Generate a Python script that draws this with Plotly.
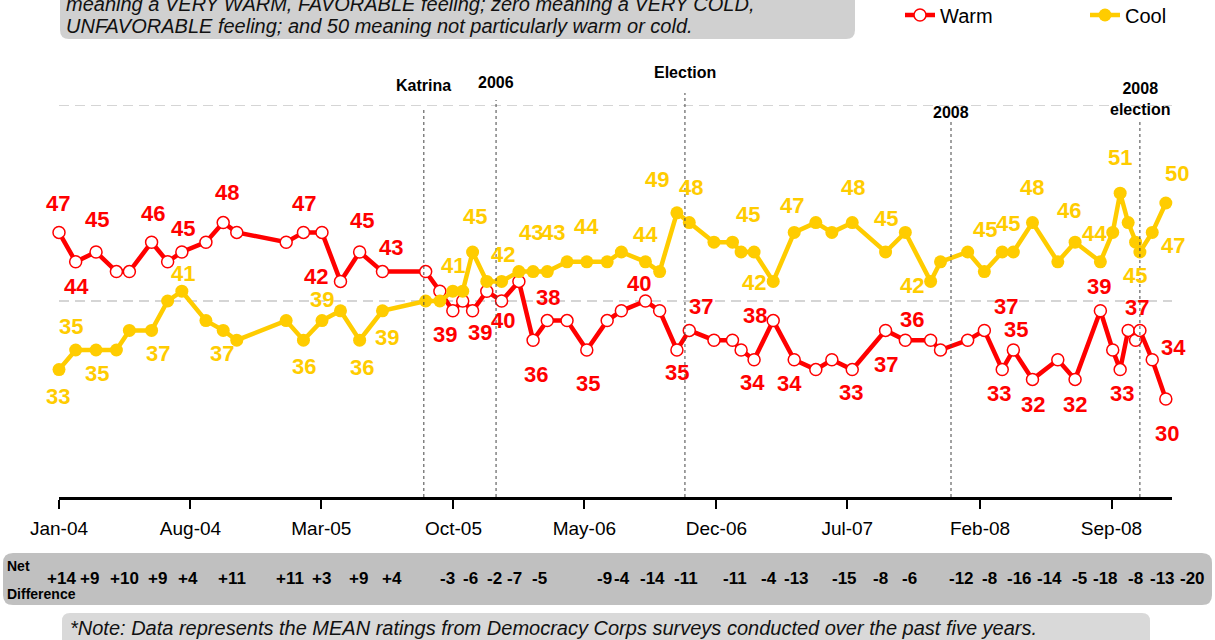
import plotly.graph_objects as go

# ---------------- data ----------------
survey_dates = [
    "2004-01-01", "2004-01-28", "2004-03-01", "2004-04-03", "2004-04-24", "2004-05-30",
    "2004-06-25", "2004-07-18", "2004-08-26", "2004-09-23", "2004-10-15", "2005-01-03",
    "2005-01-31", "2005-03-02", "2005-04-01", "2005-05-02", "2005-06-08", "2005-08-17",
    "2005-09-09", "2005-09-30", "2005-10-16", "2005-11-01", "2005-11-24", "2005-12-18",
    "2006-01-15", "2006-02-07", "2006-03-02", "2006-04-03", "2006-05-05", "2006-06-07",
    "2006-06-30", "2006-08-08", "2006-08-31", "2006-09-28", "2006-10-18", "2006-11-27",
    "2006-12-27", "2007-01-10", "2007-01-31", "2007-03-03", "2007-04-06", "2007-05-11",
    "2007-06-06", "2007-07-09", "2007-09-01", "2007-10-03", "2007-11-13", "2007-11-29",
    "2008-01-12", "2008-02-08", "2008-03-08", "2008-03-26", "2008-04-26", "2008-06-06",
    "2008-07-04", "2008-08-14", "2008-09-03", "2008-09-15", "2008-09-28", "2008-10-10",
    "2008-10-17", "2008-11-06", "2008-11-28",
]
warm = [
    47, 44, 45, 43, 43, 46, 44, 45, 46, 48, 47, 46, 47, 47, 42, 45, 43, 43, 41, 39, 40,
    39, 41, 40, 42, 36, 38, 38, 35, 38, 39, 40, 39, 35, 37, 36, 36, 35, 34, 38, 34, 33,
    34, 33, 37, 36, 36, 35, 36, 37, 33, 35, 32, 34, 32, 39, 35, 33, 37, 36, 37, 34, 30,
]
cool = [
    33, 35, 35, 35, 37, 37, 40, 41, 38, 37, 36, 38, 36, 38, 39, 36, 39, 40, 40, 41, 41,
    45, 42, 42, 43, 43, 43, 44, 44, 44, 45, 44, 43, 49, 48, 46, 46, 45, 45, 42, 47, 48,
    47, 48, 45, 47, 42, 44, 45, 43, 45, 45, 48, 44, 46, 44, 47, 51, 48, 46, 45, 47, 50,
]

# which points carry a value label (indices into the series)
warm_labelled = [0, 1, 2, 5, 7, 9, 12, 14, 15, 16, 19, 21, 23, 25, 26, 28, 31, 33, 34,
                 38, 39, 40, 43, 44, 45, 49, 50, 51, 52, 54, 55, 57, 60, 61, 62]
cool_labelled = [0, 1, 2, 5, 7, 9, 12, 14, 15, 16, 19, 21, 23, 25, 26, 28, 31, 33, 34,
                 37, 39, 40, 43, 44, 46, 50, 51, 52, 54, 55, 57, 60, 61, 62]

tick_dates = ["2004-01-01", "2004-08-01", "2005-03-01", "2005-10-01", "2006-05-01",
              "2006-12-01", "2007-07-01", "2008-02-01", "2008-09-01"]
tick_labels = ["Jan-04", "Aug-04", "Mar-05", "Oct-05", "May-06", "Dec-06", "Jul-07",
               "Feb-08", "Sep-08"]

event_names = ["Katrina", "2006", "Election", "2008", "2008<br>election"]
event_dates = ["2005-08-14", "2005-12-09", "2006-10-11", "2007-12-16", "2008-10-17"]

net_labels = ["+14", "+9", "+10", "+9", "+4", "+11", "+11", "+3", "+9", "+4",
              "-3", "-6", "-2", "-7", "-5", "-9", "-4", "-14", "-11", "-11", "-4",
              "-13", "-15", "-8", "-6", "-12", "-8", "-16", "-14", "-5", "-18", "-8",
              "-13", "-20"]

# ---------------- styling ----------------
RED = "#FF0000"
GOLD = "#FFCC00"
FONT = "Liberation Sans, Arial, sans-serif"
W, H = 1215, 640
ML, MR, MT, MB = 59, 43, 105, 143
PW, PH = W - ML - MR, H - MT - MB

# horizontal pixel centres of the net-difference texts in the band
net_px = [61, 89, 124, 157, 188, 232, 290, 321, 358, 392, 447, 470, 494, 514, 539,
          604, 622, 652, 686, 735, 769, 796, 844, 880, 909, 961, 989, 1019, 1049,
          1079, 1105, 1135, 1162, 1192]

# label offsets (pixels: dx right, dy up) for each labelled point
warm_offsets = [(-1, 29), (1, -25), (1, 33), (1, 29), (1, 24), (4, 30), (1, 29), (-24, 5),
                (2, 32), (9, 24), (-8, -24), (7, -22), (1, -19), (3, -34), (1, 23),
                (1, -33), (-6, 18), (0, -22), (12, 24), (-2, -23), (-18, 5), (-5, -24),
                (-1, -23), (0, -34), (7, 21), (22, 24), (-3, -24), (3, 21), (1, -25),
                (0, -25), (-1, 24), (2, -24), (-3, 23), (21, 12), (1, -34)]
cool_offsets = [(-1, -27), (-5, 24), (1, -23), (6, -23), (1, 18), (-1, -23), (1, -26),
                (-18, 11), (2, -27), (5, -27), (0, 26), (2, 36), (1, 27), (-2, 39),
                (6, 39), (0, 35), (0, 27), (-20, 33), (2, 35), (7, 38), (-19, -1),
                (-2, 27), (1, 35), (0, 34), (-19, -4), (-17, 23), (-5, 29), (0, 35),
                (-6, 32), (-6, 28), (0, 36), (-5, -23), (21, -13), (11, 30)]
event_tops = [110, 100, 93, 122, 120]
event_label_y = [86, 82, 72, 112, 99]


def px(x):
    return (x - ML) / PW


def py(y):
    return (H - MB - y) / PH


def rounded_box(x0, y0, x1, y1, r, fill):
    rx, ry = r / PW, r / PH
    X0, X1 = px(x0), px(x1)
    Y0, Y1 = py(y1), py(y0)  # bottom, top in paper
    path = (f"M{X0 + rx},{Y1} L{X1 - rx},{Y1} Q{X1},{Y1} {X1},{Y1 - ry} "
            f"L{X1},{Y0 + ry} Q{X1},{Y0} {X1 - rx},{Y0} L{X0 + rx},{Y0} "
            f"Q{X0},{Y0} {X0},{Y0 + ry} L{X0},{Y1 - ry} Q{X0},{Y1} {X0 + rx},{Y1} Z")
    return dict(type="path", xref="paper", yref="paper", path=path,
                fillcolor=fill, line=dict(width=0), layer="below")


fig = go.Figure()

fig.add_trace(go.Scatter(
    x=survey_dates, y=warm, name="Warm", mode="lines+markers",
    line=dict(color=RED, width=4.5),
    marker=dict(symbol="circle", size=12, color="white", line=dict(color=RED, width=1.5)),
    cliponaxis=False,
))
fig.add_trace(go.Scatter(
    x=survey_dates, y=cool, name="Cool", mode="lines+markers",
    line=dict(color=GOLD, width=4.5),
    marker=dict(symbol="circle", size=13, color=GOLD),
    cliponaxis=False,
))

annotations = []
for i, (dx, dy) in zip(warm_labelled, warm_offsets):
    annotations.append(dict(x=survey_dates[i], y=warm[i], text=f"<b>{warm[i]}</b>",
                            showarrow=False, xshift=dx, yshift=dy,
                            font=dict(family=FONT, size=22, color=RED)))
for i, (dx, dy) in zip(cool_labelled, cool_offsets):
    annotations.append(dict(x=survey_dates[i], y=cool[i], text=f"<b>{cool[i]}</b>",
                            showarrow=False, xshift=dx, yshift=dy,
                            font=dict(family=FONT, size=22, color=GOLD)))

shapes = []
# dashed reference lines
for level in [40, 60]:
    shapes.append(dict(type="line", xref="paper", yref="y", x0=0, x1=1, y0=level, y1=level,
                       line=dict(color="#C8C8C8", width=1.5, dash="10px,6px"), layer="below"))
# event lines and labels
for name, d, top, ly in zip(event_names, event_dates, event_tops, event_label_y):
    shapes.append(dict(type="line", xref="x", yref="paper", x0=d, x1=d, y0=0, y1=py(top),
                       line=dict(color="#444444", width=1, dash="dot")))
    annotations.append(dict(x=d, y=py(ly), xref="x", yref="paper", text=f"<b>{name}</b>",
                            showarrow=False, xanchor="center", yanchor="middle",
                            font=dict(family=FONT, size=16, color="black")))

# top explanatory box
shapes.append(rounded_box(60, -12, 855, 39, 9, "#D0D0D0"))
annotations.append(dict(xref="paper", yref="paper", x=px(64), y=py(4), xanchor="left",
                        yanchor="middle", showarrow=False, align="left",
                        text="<i>meaning a VERY WARM, FAVORABLE feeling; zero meaning a VERY COLD,</i>",
                        font=dict(family=FONT, size=20, color="#111111")))
annotations.append(dict(xref="paper", yref="paper", x=px(64), y=py(26), xanchor="left",
                        yanchor="middle", showarrow=False, align="left",
                        text="<i>UNFAVORABLE feeling; and 50 meaning not particularly warm or cold.</i>",
                        font=dict(family=FONT, size=20, color="#111111")))

# net difference band
shapes.append(rounded_box(3, 553, 1212, 605, 10, "#C0C0C0"))
annotations.append(dict(xref="paper", yref="paper", x=px(5), y=py(566), xanchor="left",
                        yanchor="middle", showarrow=False, text="<b>Net</b>",
                        font=dict(family=FONT, size=14, color="black")))
annotations.append(dict(xref="paper", yref="paper", x=px(5), y=py(594), xanchor="left",
                        yanchor="middle", showarrow=False, text="<b>Difference</b>",
                        font=dict(family=FONT, size=14, color="black")))
for lab, xp in zip(net_labels, net_px):
    annotations.append(dict(xref="paper", yref="paper", x=px(xp), y=py(578), showarrow=False,
                            xanchor="center", yanchor="middle", text=f"<b>{lab}</b>",
                            font=dict(family=FONT, size=17, color="black")))

# footnote box
shapes.append(rounded_box(62, 613, 1150, 648, 8, "#D9D9D9"))
annotations.append(dict(xref="paper", yref="paper", x=px(68), y=py(628), xanchor="left",
                        yanchor="middle", showarrow=False,
                        text="<i>*Note: Data represents the MEAN ratings from Democracy Corps surveys conducted over the past five years.</i>",
                        font=dict(family=FONT, size=20, color="#111111")))

fig.update_layout(
    width=W, height=H,
    margin=dict(l=ML, r=MR, t=MT, b=MB, autoexpand=False),
    paper_bgcolor="white", plot_bgcolor="white",
    font=dict(family=FONT, color="black"),
    showlegend=True,
    legend=dict(orientation="h", x=px(900), y=py(15), xanchor="left", yanchor="middle",
                font=dict(family=FONT, size=20, color="black"),
                entrywidth=140, entrywidthmode="pixels", bgcolor="rgba(0,0,0,0)"),
    xaxis=dict(type="date", range=["2004-01-01", "2008-12-08"],
               tickmode="array", tickvals=tick_dates, ticktext=tick_labels,
               showline=True, linecolor="black", linewidth=2.5,
               ticks="outside", ticklen=9, tickwidth=1.5, tickcolor="black",
               ticklabelstandoff=3,
               showgrid=False, zeroline=False,
               tickfont=dict(family=FONT, size=19, color="black")),
    yaxis=dict(range=[20, 60], showgrid=False, zeroline=False, showline=False,
               showticklabels=False, ticks=""),
    shapes=shapes,
    annotations=annotations,
)

fig.write_html("out.html", config={"displayModeBar": False},
               post_script="document.body.style.margin='0px';document.body.style.overflow='hidden';")
